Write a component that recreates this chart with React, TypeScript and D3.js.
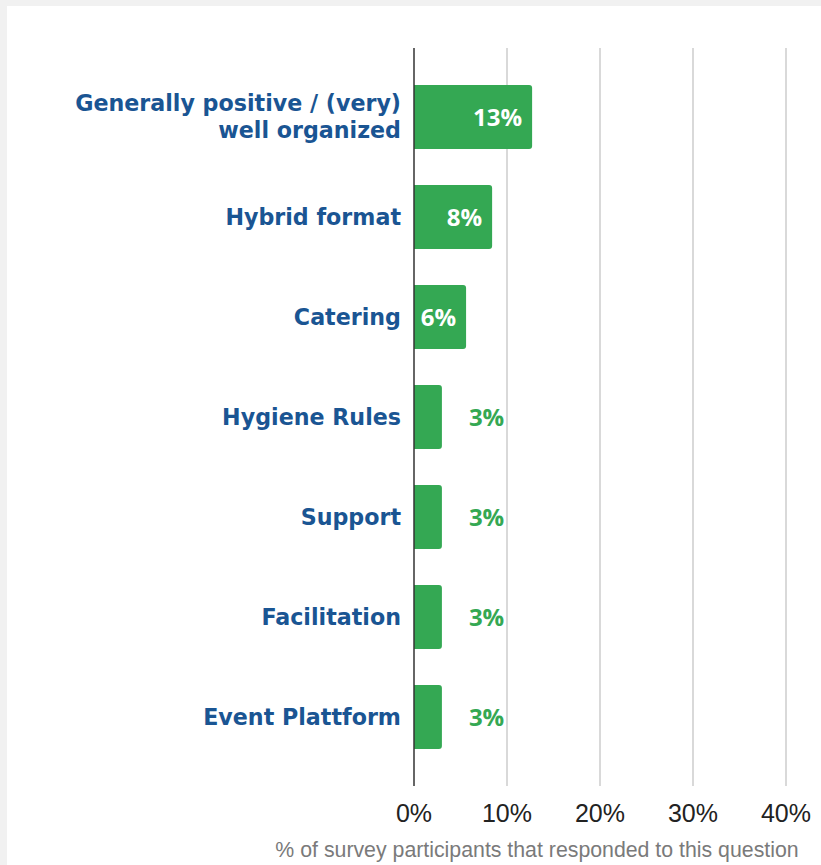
import * as d3 from 'd3';

// Data
const categories = [
    'Generally positive / (very)\nwell organized',
    'Hybrid format',
    'Catering',
    'Hygiene Rules',
    'Support',
    'Facilitation',
    'Event Plattform',
];
const shares = [12.7, 8.4, 5.6, 3.0, 3.0, 3.0, 3.0];
const tickValues = [0, 10, 20, 30, 40];
const axisTitle = '% of survey participants that responded to this question';

const W = 821;
const H = 865;
const GREEN = '#34a853';
const BLUE = '#1a5593';
const FONT = '"Liberation Sans", Arial, sans-serif';
const BOLD_FONT = '"DejaVu Sans", Verdana, sans-serif';
const VALUE_FONT = '"Open Sans", sans-serif';

export default function App() {
    const x = d3.scaleLinear().domain([0, 40]).range([414, 786]);
    const y = d3.scaleBand<number>()
        .domain(d3.range(categories.length))
        .range([67, 767])
        .paddingInner(0.36)
        .paddingOuter(0.18);

    const r = 3;
    const barPath = (v: number, top: number, h: number) => {
        const x0 = x(0);
        const x1 = x(v);
        const p = d3.path();
        p.moveTo(x0, top);
        p.lineTo(x1 - r, top);
        p.arcTo(x1, top, x1, top + r, r);
        p.lineTo(x1, top + h - r);
        p.arcTo(x1, top + h, x1 - r, top + h, r);
        p.lineTo(x0, top + h);
        p.closePath();
        return p.toString();
    };

    return (
        <div style={{ position: 'fixed', left: 0, top: 0, width: W, height: H, background: '#f1f1f1' }}>
            <svg width={W} height={H} style={{ display: 'block' }}>
                <rect x={7} y={6} width={W - 7} height={H - 6} fill="#ffffff" />

                {/* grid */}
                {tickValues.slice(1).map(t => (
                    <line key={t} x1={x(t)} x2={x(t)} y1={48} y2={786} stroke="#cccccc" strokeWidth={1.5} />
                ))}

                {/* bars */}
                {shares.map((v, i) => {
                    const top = y(i)!;
                    const h = y.bandwidth();
                    const cy = top + h / 2;
                    const label = `${Math.round(v)}%`;
                    const inside = v > 5;
                    return (
                        <g key={i}>
                            <path d={barPath(v, top, h)} fill={GREEN} />
                            {inside ? (
                                <text x={x(v) - 10} y={cy} dy="0.36em" textAnchor="end" fill="#ffffff"
                                    fontFamily={VALUE_FONT} fontWeight="bold" fontSize={24}>{label}</text>
                            ) : (
                                <text x={x(v) + 27} y={cy} dy="0.36em" textAnchor="start" fill={GREEN}
                                    fontFamily={VALUE_FONT} fontWeight="bold" fontSize={24}>{label}</text>
                            )}
                            {categories[i].split('\n').map((line, j, arr) => (
                                <text key={j} x={401} y={cy + (j - (arr.length - 1) / 2) * 27} dy="0.36em"
                                    textAnchor="end" fill={BLUE} fontFamily={BOLD_FONT} fontWeight="bold" fontSize={22.2}>
                                    {line}
                                </text>
                            ))}
                        </g>
                    );
                })}

                {/* zero axis */}
                <line x1={x(0)} x2={x(0)} y1={48} y2={786} stroke="#333333" strokeWidth={1.5} />

                {/* tick labels */}
                {tickValues.map(t => (
                    <text key={t} x={x(t)} y={822} textAnchor="middle" fill="#222222"
                        fontFamily={FONT} fontSize={25}>{`${t}%`}</text>
                ))}

                <text x={537} y={857} textAnchor="middle" fill="#7a7a7a" fontFamily={FONT} fontSize={21.3}>
                    {axisTitle}
                </text>
            </svg>
        </div>
    );
}
